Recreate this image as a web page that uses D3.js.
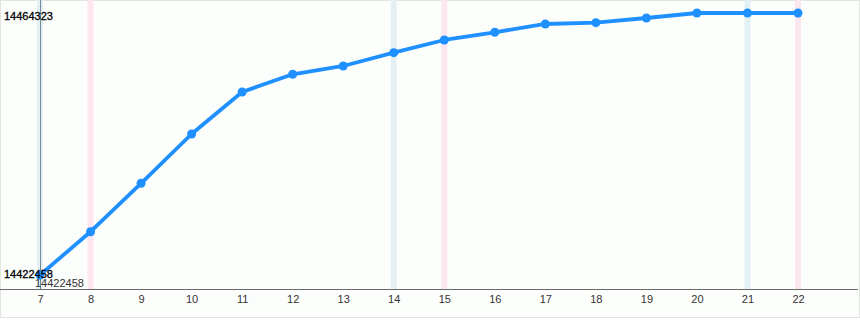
<!DOCTYPE html>
<html><head><meta charset="utf-8">
<script src="https://cdn.jsdelivr.net/npm/d3@7"></script>
<style>
html,body{margin:0;padding:0;background:#fff;}
svg{display:block;}
</style></head>
<body>
<script>
const days = [7,8,9,10,11,12,13,14,15,16,17,18,19,20,21,22];
const values = [14422458,14429377,14437112,14444990,14451701,14454530,14455856,14457981,14460011,14461241,14462568,14462776,14463526,14464323,14464323,14464323];
const blueBandDays = [7,14,21];
const pinkBandDays = [8,15,22];
const yMinLabel = "14422458";
const yMaxLabel = "14464323";

const W = 860, H = 320;
const svg = d3.select("body").append("svg").attr("width", W).attr("height", H);

svg.append("rect").attr("x",0.5).attr("y",0.5).attr("width",W-1).attr("height",H-3)
  .attr("fill","#fcfefc").attr("stroke","#e2e4e2");

const x = d3.scaleLinear().domain([7,22]).range([40,798]);
const y = d3.scaleLinear().domain([d3.min(values), d3.max(values)]).range([275,13]);
const axisY = 289;

// bands
svg.selectAll(".bb").data(blueBandDays).enter().append("rect")
  .attr("x", d=>x(d)-3).attr("y",0).attr("width",6).attr("height",axisY)
  .attr("fill","#e3f1f4");
svg.selectAll(".pb").data(pinkBandDays).enter().append("rect")
  .attr("x", d=>x(d)-3).attr("y",0).attr("width",6).attr("height",axisY)
  .attr("fill","#fce6f0");

// y axis line
svg.append("line").attr("x1",x(7)+0.5).attr("x2",x(7)+0.5).attr("y1",0).attr("y2",axisY)
  .attr("stroke","#6f8c96").attr("stroke-width",1);

// x axis
const font = "Liberation Sans, Arial, sans-serif";
const xAxis = d3.axisBottom(x).tickValues(days).tickSize(0).tickPadding(6).tickFormat(d3.format("d"));
const gx = svg.append("g").attr("transform",`translate(0,${axisY})`).call(xAxis);
gx.select(".domain").remove();
gx.selectAll("text").attr("fill","#333").style("font-family",font).style("font-size","11px");
svg.append("line").attr("x1",0).attr("x2",858).attr("y1",axisY+0.5).attr("y2",axisY+0.5)
  .attr("stroke","#6a6a6a").attr("stroke-width",1.2);

// line
const line = d3.line().x((d,i)=>x(days[i])).y(d=>y(d));
svg.append("path").datum(values).attr("d",line).attr("fill","none")
  .attr("stroke","#1e90ff").attr("stroke-width",3.8).attr("stroke-linejoin","round");
svg.selectAll(".pt").data(values).enter().append("circle")
  .attr("cx",(d,i)=>x(days[i])).attr("cy",d=>y(d)).attr("r",4.5).attr("fill","#1e90ff");

// labels
svg.append("text").attr("x",4).attr("y",20).text(yMaxLabel)
  .attr("fill","#000").attr("stroke","#000").attr("stroke-width",0.3)
  .style("font-family",font).style("font-size","11px");
svg.append("text").attr("x",4).attr("y",278).text(yMinLabel)
  .attr("fill","#000").attr("stroke","#000").attr("stroke-width",0.3)
  .style("font-family",font).style("font-size","11px");
svg.append("text").attr("x",35).attr("y",287).text(yMinLabel)
  .attr("fill","#333").style("font-family",font).style("font-size","11px");
</script>
</body></html>
